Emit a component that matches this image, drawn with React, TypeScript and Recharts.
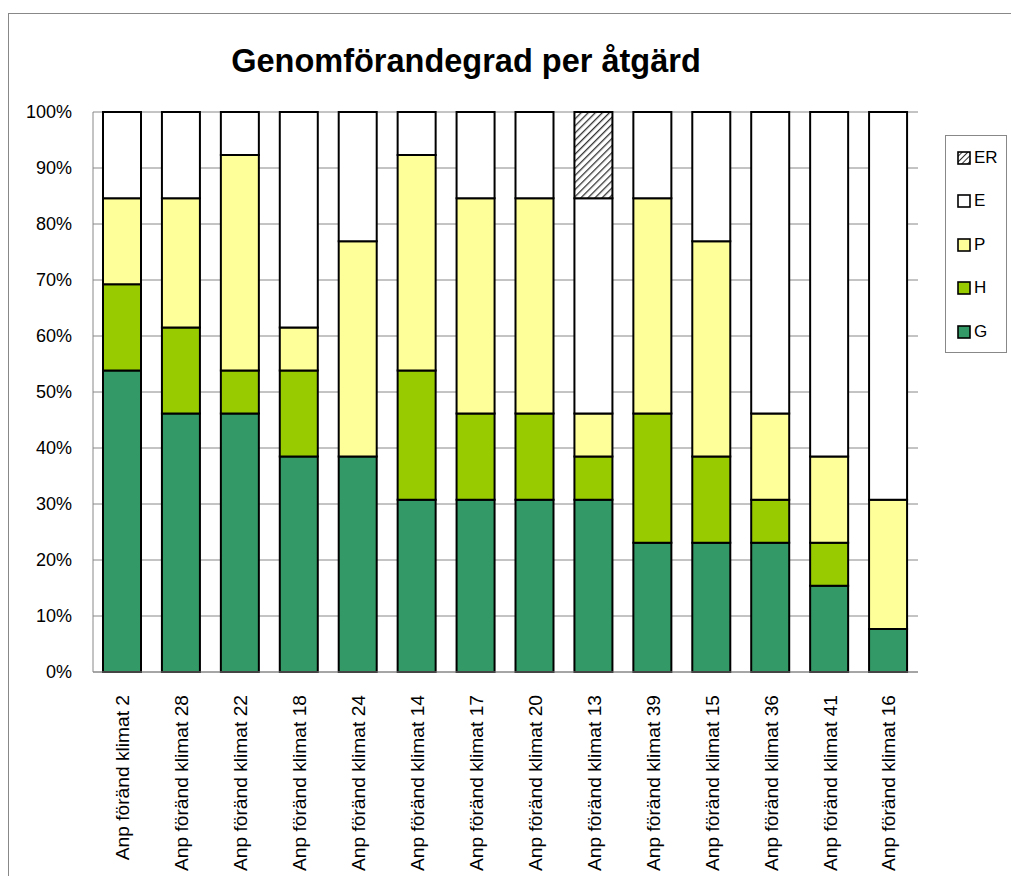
import { Bar, BarChart, CartesianGrid, XAxis, YAxis } from "recharts";

const categories = [
  "Anp föränd klimat 2",
  "Anp föränd klimat 28",
  "Anp föränd klimat 22",
  "Anp föränd klimat 18",
  "Anp föränd klimat 24",
  "Anp föränd klimat 14",
  "Anp föränd klimat 17",
  "Anp föränd klimat 20",
  "Anp föränd klimat 13",
  "Anp föränd klimat 39",
  "Anp föränd klimat 15",
  "Anp föränd klimat 36",
  "Anp föränd klimat 41",
  "Anp föränd klimat 16"
];

// antal åtgärder per status (av 13)
const gValues = [7, 6, 6, 5, 5, 4, 4, 4, 4, 3, 3, 3, 2, 1];
const hValues = [2, 2, 1, 2, 0, 3, 2, 2, 1, 3, 2, 1, 1, 0];
const pValues = [2, 3, 5, 1, 5, 5, 5, 5, 1, 5, 5, 2, 2, 3];
const eValues = [2, 2, 1, 5, 3, 1, 2, 2, 5, 2, 3, 7, 8, 9];
const erValues = [0, 0, 0, 0, 0, 0, 0, 0, 2, 0, 0, 0, 0, 0];

const yTicks = [0, 0.1, 0.2, 0.3, 0.4, 0.5, 0.6, 0.7, 0.8, 0.9, 1];

const series = [
  { key: "G", fill: "#339966" },
  { key: "H", fill: "#99CC00" },
  { key: "P", fill: "#FFFF99" },
  { key: "E", fill: "#FFFFFF" },
  { key: "ER", fill: "url(#hatch)" }
];

const data = categories.map((name, i) => ({
  name,
  G: gValues[i],
  H: hValues[i],
  P: pValues[i],
  E: eValues[i],
  ER: erValues[i]
}));

const font = "'Liberation Sans', Arial, sans-serif";

function CategoryTick(props: any) {
  const { x, y, payload } = props;
  return (
    <text
      x={x}
      y={y + 15}
      transform={`rotate(-90 ${x} ${y + 15})`}
      textAnchor="end"
      dy="0.36em"
      fontFamily={font}
      fontSize={19.2}
      fill="#000"
    >
      {payload.value}
    </text>
  );
}

function LegendBox() {
  const items = [...series].reverse();
  return (
    <div
      style={{
        position: "absolute",
        left: 945,
        top: 135,
        width: 62,
        height: 218,
        border: "1px solid #888",
        background: "#fff",
        boxSizing: "border-box"
      }}
    >
      {items.map((s) => (
        <div key={s.key} style={{ display: "flex", alignItems: "center", height: 43.5, paddingLeft: 11 }}>
          <svg width={14} height={14} style={{ marginRight: 3 }}>
            <defs>
              <pattern id={`lh-${s.key}`} width={4} height={4} patternUnits="userSpaceOnUse" patternTransform="rotate(45)">
                <rect width={4} height={4} fill="#fff" />
                <line x1={0} y1={0} x2={0} y2={4} stroke="#333" strokeWidth={2} />
              </pattern>
            </defs>
            <rect
              x={1}
              y={1}
              width={12}
              height={12}
              fill={s.key === "ER" ? `url(#lh-${s.key})` : s.fill}
              stroke="#000"
              strokeWidth={1.6}
            />
          </svg>
          <span style={{ fontFamily: font, fontSize: 17, color: "#000" }}>{s.key}</span>
        </div>
      ))}
    </div>
  );
}

export default function App() {
  return (
    <div style={{ position: "absolute", left: 0, top: 0, width: 1011, height: 876, overflow: "hidden", background: "#fff" }}>
      <div
        style={{
          position: "absolute",
          left: 8,
          top: 13,
          width: 1100,
          height: 1000,
          border: "1px solid #888"
        }}
      />
      <div
        style={{
          position: "absolute",
          left: 0,
          top: 43,
          width: 932,
          textAlign: "center",
          fontFamily: font,
          fontWeight: "bold",
          fontSize: 32.5,
          color: "#000"
        }}
      >
        Genomförandegrad per åtgärd
      </div>
      <div style={{ position: "absolute", left: 0, top: 0 }}>
        <BarChart
          width={1011}
          height={876}
          data={data}
          stackOffset="expand"
          margin={{ top: 112, right: 93, bottom: 0, left: 33 }}
        >
          <defs>
            <pattern id="hatch" width={5} height={5} patternUnits="userSpaceOnUse" patternTransform="rotate(45)">
              <rect width={5} height={5} fill="#fff" />
              <line x1={0} y1={0} x2={0} y2={5} stroke="#333" strokeWidth={2.6} />
            </pattern>
          </defs>
          <CartesianGrid stroke="#888" vertical={false} verticalPoints={[93, 918]} />
          <XAxis
            dataKey="name"
            interval={0}
            tickLine={false}
            axisLine={{ stroke: "#888" }}
            tick={<CategoryTick />}
            height={204}
          />
          <YAxis
            width={60}
            domain={[0, 1]}
            ticks={yTicks}
            tickFormatter={(v: number) => `${Math.round(v * 100)}%`}
            tickLine={false}
            tickMargin={15}
            axisLine={{ stroke: "#888" }}
            tick={{ fill: "#000", fontFamily: font, fontSize: 18 }}
          />
          {series.map((s) => (
            <Bar
              key={s.key}
              dataKey={s.key}
              stackId="a"
              fill={s.fill}
              stroke="#000"
              strokeWidth={2}
              barSize={38}
              isAnimationActive={false}
            />
          ))}
        </BarChart>
      </div>
      <LegendBox />
    </div>
  );
}
